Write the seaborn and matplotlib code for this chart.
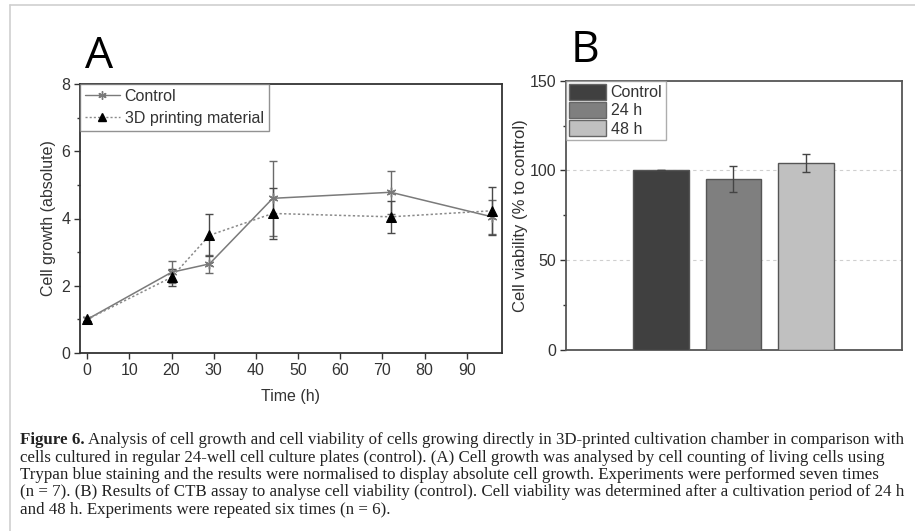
import numpy as np
import pandas as pd
import matplotlib
matplotlib.use("Agg")
import matplotlib.pyplot as plt
import seaborn as sns
from matplotlib.patches import Patch
from matplotlib.lines import Line2D

# ---- Data: panel A ----
time_h = [0, 20, 29, 44, 72, 96]
control_growth = [1.0, 2.4, 2.65, 4.6, 4.78, 4.05]
control_err = [0.07, 0.33, 0.27, 1.12, 0.64, 0.5]
material_growth = [1.0, 2.25, 3.5, 4.15, 4.05, 4.23]
material_err = [0.07, 0.25, 0.63, 0.75, 0.47, 0.72]
x_ticks_a = [0, 10, 20, 30, 40, 50, 60, 70, 80, 90]
y_ticks_a = [0, 2, 4, 6, 8]

# ---- Data: panel B ----
groups_b = ["Control", "24 h", "48 h"]
viability = [100.0, 95.1, 104.3]
viability_err = [0.0, 7.3, 5.0]
y_ticks_b = [0, 50, 100, 150]

caption_lines = [
    "Analysis of cell growth and cell viability of cells growing directly in 3D-printed cultivation chamber in comparison with",
    "cells cultured in regular 24-well cell culture plates (control). (A) Cell growth was analysed by cell counting of living cells using",
    "Trypan blue staining and the results were normalised to display absolute cell growth. Experiments were performed seven times",
    "(n = 7). (B) Results of CTB assay to analyse cell viability (control). Cell viability was determined after a cultivation period of 24 h",
    "and 48 h. Experiments were repeated six times (n = 6).",
]

sns.set_theme(style="white")
plt.rcParams["font.family"] = ["Liberation Sans", "DejaVu Sans"]

W, H = 915, 531
fig = plt.figure(figsize=(W / 100, H / 100), dpi=100)

def fx(px):
    return px / W

def fy(py):
    return 1 - py / H

# light frame of the screenshot
fig.add_artist(Line2D([fx(10), fx(915)], [fy(5), fy(5)], color="#cfcfcf", lw=1.2))
fig.add_artist(Line2D([fx(10), fx(10)], [fy(5), fy(531)], color="#cfcfcf", lw=1.2))

# ---------------- Panel A ----------------
axA = fig.add_axes([fx(80), fy(353), fx(501.7) - fx(80), fy(84) - fy(353)])
dfA = pd.DataFrame({
    "Time": time_h * 2,
    "Growth": control_growth + material_growth,
    "Group": ["Control"] * len(time_h) + ["3D printing material"] * len(time_h),
})
ctrl_color = "#7a7a7a"
mat_line = "#8a8a8a"
axA.errorbar(time_h, control_growth, yerr=control_err, fmt="none", ecolor="#6a6a6a",
             elinewidth=1.0, capsize=3, capthick=1.0, zorder=2)
axA.errorbar(time_h, material_growth, yerr=material_err, fmt="none", ecolor="#4a4a4a",
             elinewidth=1.0, capsize=3, capthick=1.0, zorder=2)
sns.lineplot(data=dfA[dfA.Group == "Control"], x="Time", y="Growth", ax=axA,
             color=ctrl_color, lw=1.1, marker=(6, 2, 0), markersize=7,
             markeredgecolor=ctrl_color, markeredgewidth=1.0, zorder=3, legend=False)
sns.lineplot(data=dfA[dfA.Group == "3D printing material"], x="Time", y="Growth", ax=axA,
             color=mat_line, lw=1.1, linestyle=(0, (1.5, 1.5)), marker="^", markersize=7,
             markerfacecolor="black", markeredgecolor="black", zorder=4, legend=False)
axA.set_xlim(-1.7, 98.3)
axA.set_ylim(0, 8)
axA.set_xticks(x_ticks_a)
axA.set_yticks(y_ticks_a)
axA.set_yticks([1, 3, 5, 7], minor=True)
axA.set_xlabel("Time (h)", fontsize=11.5, color="#333333", labelpad=8)
axA.set_ylabel("Cell growth (absolute)", fontsize=11.5, color="#333333", labelpad=4)
axA.tick_params(axis="both", which="major", direction="out", length=4, width=1.0,
                labelsize=11.5, labelcolor="#333333", color="#333333",
                bottom=True, left=True, pad=3)
axA.tick_params(axis="y", which="minor", direction="out", length=2.5, width=1.0,
                left=True, color="#333333")
for s in axA.spines.values():
    s.set_color("#333333")
    s.set_linewidth(1.3)
legA_handles = [
    Line2D([], [], color=ctrl_color, lw=1.0, marker=(6, 2, 0), markersize=6,
           markeredgecolor=ctrl_color),
    Line2D([], [], color=mat_line, lw=1.0, linestyle=(0, (1.5, 1.5)), marker="^",
           markersize=6, markerfacecolor="black", markeredgecolor="black"),
]
legA = axA.legend(legA_handles, ["Control", "3D printing material"], loc="upper left",
                  bbox_to_anchor=(0, 1), fontsize=11.5, frameon=True, fancybox=False,
                  borderpad=0.3, handlelength=2.2, handletextpad=0.3,
                  labelspacing=0.45, borderaxespad=0)
legA.get_frame().set_edgecolor("#777777")
legA.get_frame().set_linewidth(1.0)
for t in legA.get_texts():
    t.set_color("#333333")

fig.text(fx(85), fy(68), "A", fontsize=32, ha="left", va="baseline", color="black",
         family=["Open Sans", "DejaVu Sans"])

# ---------------- Panel B ----------------
axB = fig.add_axes([fx(566), fy(350), fx(901.7) - fx(566), fy(80.7) - fy(350)])
dfB = pd.DataFrame({"Group": groups_b, "Viability": viability})
bar_colors = ["#404040", "#7f7f7f", "#c0c0c0"]
sns.barplot(data=dfB, x="Group", y="Viability", hue="Group", palette=bar_colors,
            ax=axB, width=0.77, legend=False, edgecolor="#555555", linewidth=1.0,
            saturation=1, zorder=3)
axB.errorbar(range(len(groups_b)), viability, yerr=viability_err, fmt="none",
             ecolor="#444444", elinewidth=1.0, capsize=3, capthick=1.0, zorder=4)
axB.set_xlim(-1.31, 3.32)
axB.set_ylim(0, 150)
axB.set_yticks(y_ticks_b)
axB.set_yticks([25, 75, 125], minor=True)
axB.set_xticks([])
axB.set_xlabel("")
axB.set_ylabel("Cell viability (% to control)", fontsize=12, color="#333333", labelpad=1)
for yv in [50, 100]:
    axB.axhline(yv, color="#cfcfcf", lw=0.8, linestyle=(0, (3, 3)), zorder=1)
axB.tick_params(axis="y", which="major", direction="out", length=4, width=1.0,
                labelsize=11.5, labelcolor="#333333", color="#333333", left=True, pad=3)
axB.tick_params(axis="y", which="minor", direction="out", length=2.5, width=1.0,
                left=True, color="#333333")
for s in axB.spines.values():
    s.set_color("#555555")
    s.set_linewidth(1.3)
legB_handles = [Patch(facecolor=c, edgecolor="#666666", linewidth=1.0) for c in bar_colors]
legB = axB.legend(legB_handles, groups_b, loc="upper left", bbox_to_anchor=(0, 1),
                  fontsize=11.5, frameon=True, fancybox=False, borderpad=0.2,
                  handlelength=2.3, handleheight=1.15, handletextpad=0.3,
                  labelspacing=0.12, borderaxespad=0)
legB.get_frame().set_edgecolor("#999999")
legB.get_frame().set_linewidth(1.0)
for t in legB.get_texts():
    t.set_color("#333333")

fig.text(fx(571), fy(62), "B", fontsize=32, ha="left", va="baseline", color="black",
         family=["Open Sans", "DejaVu Sans"])

# ---------------- Caption ----------------
serif = ["Liberation Serif", "DejaVu Serif"]
cap_size = 12.15
line_y = [444, 461.5, 479, 496.5, 514]
fig.canvas.draw()
renderer = fig.canvas.get_renderer()
bold = fig.text(fx(20), fy(line_y[0]), "Figure 6.", fontsize=cap_size, fontweight="bold",
                family=serif, color="#222222", va="baseline", ha="left")
bb = bold.get_window_extent(renderer=renderer)
x_after = bb.x1 / W + fx(3)
fig.text(x_after, fy(line_y[0]), caption_lines[0], fontsize=cap_size, family=serif,
         color="#222222", va="baseline", ha="left")
for i in range(1, len(caption_lines)):
    fig.text(fx(20), fy(line_y[i]), caption_lines[i], fontsize=cap_size, family=serif,
             color="#222222", va="baseline", ha="left")

fig.savefig("out.png", dpi=100, facecolor="white")
